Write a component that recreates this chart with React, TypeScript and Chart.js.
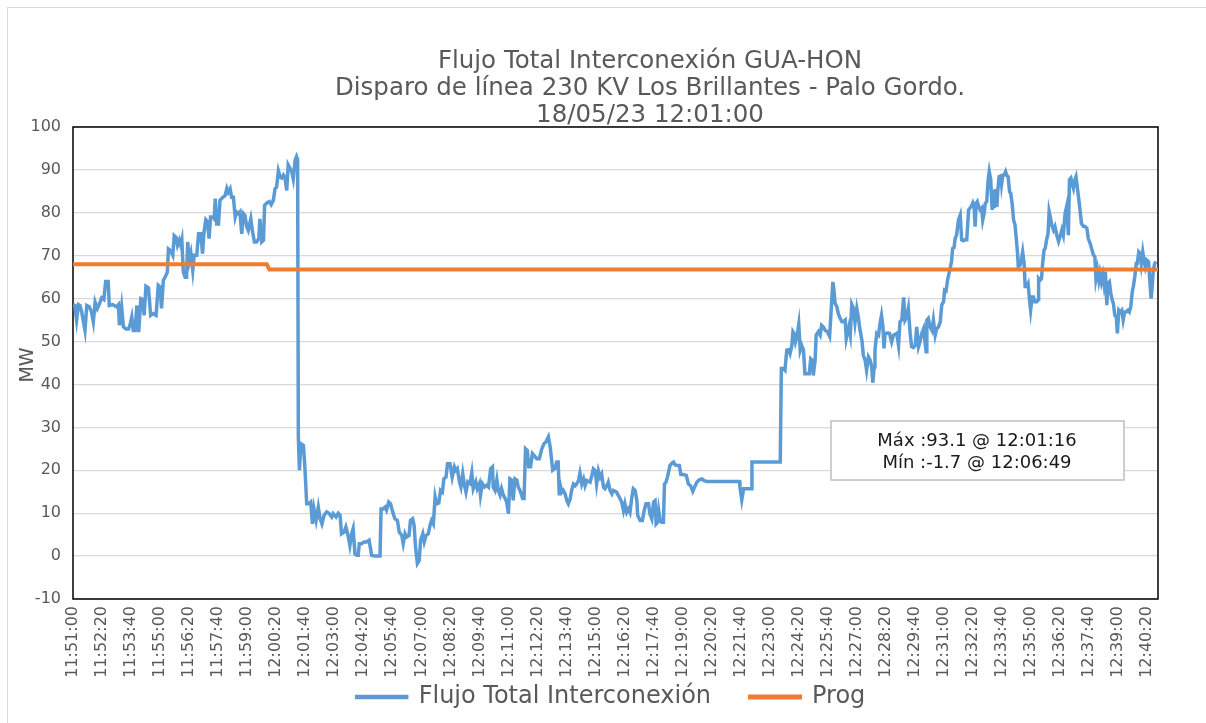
import React, { useEffect, useRef } from "react";
import { Chart, registerables } from "chart.js";

Chart.register(...registerables);

// ---------- text ----------
const titleLines = [
  "Flujo Total Interconexión GUA-HON",
  "Disparo de línea 230 KV Los Brillantes - Palo Gordo.",
  "18/05/23 12:01:00",
];
const seriesNames = ["Flujo Total Interconexión", "Prog"];
const axisTitle = "MW";
const annotationLines = ["Máx :93.1 @ 12:01:16", "Mín :-1.7 @ 12:06:49"];

// ---------- axes ----------
const startClock = "11:51:00";
const endSeconds = 2990; // seconds after start at right edge of plot
const tickLabels = [
  "11:51:00", "11:52:20", "11:53:40", "11:55:00", "11:56:20", "11:57:40",
  "11:59:00", "12:00:20", "12:01:40", "12:03:00", "12:04:20", "12:05:40",
  "12:07:00", "12:08:20", "12:09:40", "12:11:00", "12:12:20", "12:13:40",
  "12:15:00", "12:16:20", "12:17:40", "12:19:00", "12:20:20", "12:21:40",
  "12:23:00", "12:24:20", "12:25:40", "12:27:00", "12:28:20", "12:29:40",
  "12:31:00", "12:32:20", "12:33:40", "12:35:00", "12:36:20", "12:37:40",
  "12:39:00", "12:40:20",
];
const yMin = -10;
const yMax = 100;
const yStep = 10;

// ---------- data: seconds after 11:51:00 and MW ----------
const preTripTimes = [
  0, 5, 10, 15, 19, 24, 33, 38, 45, 51,
  56, 61, 67, 73, 79, 85, 90, 97, 100, 109,
  116, 120, 125, 128, 134, 139, 146, 153, 157, 162,
  166, 171, 176, 181, 187, 192, 196, 201, 208, 214,
  221, 229, 235, 240, 244, 249, 256, 260, 263, 269,
  275, 279, 284, 288, 293, 297, 300, 304, 309, 313,
  316, 321, 325, 330, 334, 341, 346, 352, 357, 361,
  366, 370, 375, 379, 385, 389, 392, 396, 401, 405,
  413, 419, 424, 428, 433, 437, 442, 447, 451, 456,
  460, 465, 470, 474, 479, 483, 490, 495, 500, 506,
  512, 515, 520, 525, 528, 534, 541, 546, 552, 557,
  561, 566, 571, 575, 580, 584, 589, 593, 598, 603,
  607, 612, 616, 619,
];
const preTripValues = [
  58.6, 58.4, 55.0, 58.6, 58.4, 56.9, 52.6, 58.4, 58.1, 56.9,
  54.6, 59.2, 57.7, 58.8, 60.2, 59.8, 64.0, 64.0, 58.4, 58.6,
  58.3, 58.1, 58.6, 53.8, 58.1, 53.4, 52.9, 52.9, 53.8, 55.7,
  52.6, 52.6, 58.4, 52.2, 60.0, 59.8, 56.1, 62.9, 62.5, 56.1,
  56.5, 56.1, 63.1, 62.7, 57.7, 64.3, 65.4, 66.2, 71.6, 71.2,
  70.1, 74.7, 74.3, 72.4, 73.6, 72.4, 73.6, 66.2, 65.0, 65.0,
  73.2, 68.9, 70.5, 66.6, 70.1, 70.1, 75.1, 75.1, 70.5, 75.5,
  78.4, 78.0, 74.0, 79.0, 79.0, 78.6, 83.3, 77.4, 77.4, 82.9,
  83.6, 84.0, 85.7, 84.8, 85.6, 83.6, 83.6, 79.0, 80.2, 79.8,
  80.2, 75.1, 79.8, 79.4, 76.7, 75.9, 78.6, 75.5, 73.2, 73.2,
  74.0, 78.6, 73.2, 73.6, 81.7, 82.3, 82.6, 81.9, 82.9, 85.7,
  86.0, 89.8, 88.3, 88.1, 88.8, 88.3, 85.2, 91.2, 90.4, 89.5,
  87.9, 92.2, 93.1, 92.4,
];

const postTripTimes = [
  621, 624, 628, 635, 639, 644, 650, 655, 660, 664,
  670, 676, 681, 686, 692, 699, 706, 713, 717, 725,
  731, 736, 740, 747, 752, 759, 763, 768, 772, 777,
  782, 786, 789, 795, 802, 809, 816, 823, 832, 846,
  849, 855, 860, 864, 870, 875, 881, 887, 894, 899,
  906, 910, 915, 919, 926, 930, 936, 940, 944, 949,
  954, 958, 964, 968, 973, 979, 984, 988, 993, 998,
  1002, 1008, 1013, 1018, 1022, 1028, 1032, 1039, 1045, 1051,
  1055, 1059, 1065, 1069, 1074, 1078, 1083, 1088, 1094, 1099,
  1103, 1110, 1114, 1120, 1123, 1128, 1134, 1140, 1145, 1151,
  1156, 1158, 1163, 1168, 1172, 1177, 1181, 1186, 1191, 1195,
  1200, 1204, 1209, 1213, 1218, 1223, 1227, 1232, 1239, 1243,
  1247, 1252, 1256, 1261, 1266, 1270, 1278, 1285, 1292, 1298,
  1303, 1310, 1315, 1322, 1328, 1333, 1337, 1340,
];
const postTripValues = [
  27.8, 20.0, 26.2, 25.8, 20.8, 12.2, 12.2, 12.6, 7.5, 11.0,
  8.3, 11.4, 8.7, 7.5, 9.5, 10.3, 9.9, 9.1, 9.9, 9.1,
  10.0, 9.5, 5.2, 5.6, 6.8, 4.4, 2.5, 5.2, 6.4, 0.5,
  0.2, 0.2, 2.9, 2.9, 3.3, 3.3, 3.7, 0.2, 0.0, 0.0,
  11.0, 11.0, 11.4, 10.7, 12.6, 12.2, 10.3, 8.7, 8.3, 5.6,
  4.8, 2.9, 5.2, 4.4, 4.8, 8.3, 8.7, 7.2, 2.1, -1.7,
  -1.0, 3.7, 5.2, 3.3, 4.8, 5.2, 7.2, 8.3, 7.5, 13.8,
  12.2, 12.4, 15.3, 14.9, 18.0, 18.4, 21.5, 21.5, 18.4, 20.8,
  20.0, 20.4, 17.3, 16.1, 19.2, 16.9, 14.9, 17.3, 16.9, 19.4,
  15.7, 17.3, 15.7, 16.9, 14.2, 16.9, 16.1, 16.5, 16.1, 20.4,
  20.8, 16.1, 15.3, 17.8, 15.3, 14.2, 15.7, 14.2, 13.4, 12.6,
  9.9, 18.0, 17.7, 13.0, 18.0, 17.7, 16.1, 15.3, 13.4, 13.4,
  25.0, 24.6, 20.8, 20.8, 23.9, 23.5, 22.7, 22.7, 25.0, 26.2,
  26.6, 27.8, 25.4, 20.0, 20.4, 21.9, 21.9, 14.5,
];

const lowFlowTimes = [
  1342, 1347, 1351, 1356, 1361, 1365, 1370, 1374, 1379, 1384,
  1388, 1393, 1397, 1402, 1407, 1411, 1416, 1425, 1430, 1434,
  1439, 1443, 1448, 1453, 1457, 1462, 1466, 1471, 1475, 1480,
  1485, 1489, 1498, 1503, 1508, 1512, 1517, 1521, 1526, 1531,
  1535, 1540, 1544, 1549, 1554, 1556, 1563, 1569, 1574, 1579,
  1586, 1590, 1595, 1600, 1604, 1607, 1611, 1614, 1618, 1622,
  1627, 1630, 1634, 1638, 1641, 1645, 1650, 1655, 1659, 1666,
  1671, 1675, 1682, 1690, 1696, 1702, 1708, 1712, 1719, 1726,
  1733, 1739, 1747, 1837, 1838, 1843, 1848, 1869, 1871, 1949,
];
const lowFlowValues = [
  16.8, 14.9, 15.3, 14.5, 12.9, 12.2, 13.3, 15.3, 16.8, 16.4,
  16.8, 17.6, 19.3, 16.8, 18.0, 16.4, 17.6, 17.2, 18.8, 20.3,
  19.9, 16.8, 19.9, 18.4, 19.1, 16.0, 15.7, 16.4, 17.2, 15.3,
  14.5, 15.3, 14.9, 14.1, 13.3, 12.6, 10.6, 12.2, 10.2, 11.0,
  10.2, 13.7, 15.7, 15.3, 12.9, 9.5, 8.3, 8.3, 10.6, 12.2,
  12.2, 9.8, 8.7, 12.6, 12.9, 7.5, 7.9, 10.6, 8.3, 7.9,
  7.9, 16.8, 17.2, 18.4, 19.5, 21.1, 21.6, 21.9, 21.3, 21.1,
  21.1, 19.0, 19.0, 18.8, 16.8, 16.4, 15.1, 15.9, 17.2, 17.8,
  18.0, 17.6, 17.4, 17.4, 16.0, 13.1, 15.7, 15.7, 21.9, 21.9,
];

const recoveryTimes = [
  1952, 1958, 1962, 1967, 1972, 1976, 1981, 1984, 1987, 1991,
  1995, 2000, 2004, 2008, 2013, 2017, 2022, 2029, 2033, 2038,
  2040, 2045, 2048, 2054, 2059, 2063, 2068, 2073, 2079, 2085,
  2088, 2094, 2097, 2100, 2105, 2109, 2114, 2119, 2123, 2128,
  2131, 2134, 2138, 2142, 2146, 2151, 2155, 2160, 2164, 2169,
  2174, 2178, 2183, 2187, 2192, 2197, 2201, 2204, 2208, 2210,
  2215, 2220, 2224, 2228, 2232, 2235, 2238, 2243, 2250, 2256,
  2261, 2266, 2270, 2275, 2279, 2284, 2289, 2293, 2298, 2302,
  2307, 2311, 2316, 2321, 2325, 2330, 2334, 2339, 2344, 2348,
  2351, 2353, 2357, 2362, 2367, 2371, 2376, 2380, 2385, 2390,
  2394, 2399, 2402, 2406, 2410, 2413, 2417, 2421, 2424, 2428,
  2431, 2435, 2440, 2445,
];
const recoveryValues = [
  43.7, 43.7, 43.3, 48.0, 48.1, 47.2, 49.1, 52.3, 51.9, 49.9,
  51.1, 54.0, 48.0, 49.1, 48.0, 42.5, 42.5, 42.5, 46.0, 45.6,
  42.1, 45.6, 51.5, 52.3, 51.5, 53.8, 53.4, 52.6, 52.3, 51.2,
  55.4, 63.9, 62.0, 58.9, 58.1, 56.5, 55.4, 54.6, 54.6, 55.0,
  50.7, 51.9, 53.4, 51.5, 58.7, 57.7, 54.4, 57.7, 55.8, 52.6,
  50.3, 46.8, 45.6, 43.3, 46.4, 45.6, 44.1, 40.4, 44.1, 48.0,
  51.9, 51.5, 54.2, 56.1, 53.4, 48.4, 51.9, 52.0, 51.9, 49.9,
  51.5, 51.7, 51.9, 49.1, 54.6, 55.0, 60.3, 55.0, 55.8, 57.7,
  51.9, 48.8, 48.6, 49.1, 53.4, 48.8, 49.9, 51.9, 53.0, 49.9,
  47.6, 55.0, 55.4, 53.4, 52.6, 55.0, 51.5, 53.0, 53.4, 54.6,
  58.5, 59.3, 62.0, 61.8, 64.3, 65.5, 67.0, 68.6, 71.7, 71.9,
  74.0, 74.8, 78.3, 79.5,
];

const lateTimes = [
  2449, 2454, 2458, 2463, 2468, 2472, 2477, 2480, 2483, 2486,
  2489, 2492, 2496, 2500, 2504, 2507, 2511, 2514, 2518, 2522,
  2525, 2529, 2533, 2536, 2539, 2542, 2546, 2548, 2552, 2557,
  2559, 2562, 2566, 2570, 2573, 2577, 2581, 2584, 2588, 2592,
  2596, 2599, 2603, 2605, 2610, 2614, 2617, 2621, 2624, 2628,
  2632, 2636, 2639, 2643, 2647, 2650, 2656, 2660, 2661, 2665,
  2669, 2672, 2676, 2679, 2683, 2687, 2690, 2693, 2697, 2702,
  2706, 2711, 2716, 2720, 2725, 2729, 2734, 2739, 2743, 2746,
  2750, 2753, 2757, 2761, 2764, 2768, 2772, 2775, 2779, 2785,
  2789, 2794, 2798, 2803, 2807, 2812, 2816, 2819, 2823, 2827,
  2830, 2834, 2838, 2841, 2845, 2849, 2852, 2856, 2860, 2864,
  2867, 2871, 2875, 2878, 2882, 2886, 2890, 2894, 2898, 2902,
  2907, 2911, 2915, 2919, 2922, 2926, 2930, 2933, 2937, 2941,
  2944, 2948, 2952, 2955, 2959, 2964, 2968, 2971, 2974, 2977,
  2981, 2985,
];
const lateValues = [
  73.7, 73.5, 73.7, 73.7, 80.7, 81.1, 81.8, 82.4, 81.8, 76.8,
  82.2, 82.6, 81.4, 80.7, 81.1, 78.3, 79.9, 82.2, 82.6, 87.7,
  89.6, 87.7, 80.7, 85.3, 81.1, 85.5, 81.4, 84.6, 88.4, 88.6,
  86.7, 88.6, 88.8, 89.6, 88.8, 88.4, 84.9, 84.6, 82.2, 78.3,
  77.2, 74.4, 70.5, 67.4, 67.8, 69.4, 70.9, 68.2, 62.8, 62.8,
  63.5, 59.6, 57.3, 60.4, 60.4, 59.3, 59.3, 59.8, 64.7, 64.3,
  64.7, 68.2, 71.3, 71.7, 73.7, 75.2, 80.3, 79.1, 77.2, 76.0,
  76.8, 74.8, 73.3, 74.4, 76.0, 74.8, 79.9, 81.8, 74.8, 87.7,
  88.1, 86.9, 85.7, 87.7, 88.4, 85.7, 83.0, 80.7, 77.5, 76.8,
  76.8, 76.4, 74.0, 72.9, 71.7, 70.2, 69.8, 64.7, 66.7, 64.3,
  65.9, 63.9, 65.5, 63.5, 66.3, 58.5, 63.5, 63.9, 61.2, 59.6,
  58.9, 56.1, 55.8, 51.9, 57.3, 56.9, 57.3, 55.0, 56.9, 56.9,
  57.3, 56.9, 58.1, 61.6, 62.8, 65.1, 68.2, 68.2, 70.9, 70.5,
  68.2, 70.9, 68.6, 67.4, 69.0, 68.6, 63.5, 60.0, 62.8, 66.7,
  68.2, 68.6,
];

const progTimes = [0, 534, 541, 2990];
const progValues = [68.0, 68.0, 66.8, 66.8];

// ---------- styling ----------
const FONT = '"DejaVu Sans", sans-serif';
const TEXT_GRAY = "#595959";
const BLUE = "#5b9bd5";
const ORANGE = "#ed7d31";
const LEGEND_PADDING = 39;
const LEGEND_FONT_SIZE = 24;

const toSeconds = (clock: string) => {
  const [h, m, s] = clock.split(":").map(Number);
  return h * 3600 + m * 60 + s;
};
const startSec = toSeconds(startClock);
const tickValues = tickLabels.map((l) => toSeconds(l) - startSec);

const pairs = (times: number[], values: number[]) =>
  times.map((t, i) => ({ x: t, y: values[i] }));

const flowPoints = [
  ...pairs(preTripTimes, preTripValues),
  ...pairs(postTripTimes, postTripValues),
  ...pairs(lowFlowTimes, lowFlowValues),
  ...pairs(recoveryTimes, recoveryValues),
  ...pairs(lateTimes, lateValues),
];
const progPoints = pairs(progTimes, progValues);

const decorPlugin = {
  id: "decor",
  afterLayout(chart: any) {
    // place the legend row like the reference (centre x ~611, text centre y ~697)
    const lg = chart.legend;
    if (!lg) return;
    const w = lg.right - lg.left;
    lg.top = 697 - LEGEND_PADDING - LEGEND_FONT_SIZE / 2;
    lg.bottom = chart.height;
    lg.height = lg.bottom - lg.top;
    lg.left = 611 - w / 2;
    lg.right = lg.left + w;
  },
  beforeDatasetsDraw(chart: any) {
    const { ctx, chartArea: a } = chart;
    ctx.save();
    ctx.strokeStyle = "#000000";
    ctx.lineWidth = 1.5;
    ctx.strokeRect(a.left, a.top, a.right - a.left, a.bottom - a.top);
    ctx.restore();
  },
  afterDatasetsDraw(chart: any) {
    const { ctx } = chart;
    ctx.save();
    ctx.fillStyle = "#ffffff";
    ctx.fillRect(831, 421, 293, 59);
    ctx.strokeStyle = "#bfbfbf";
    ctx.lineWidth = 1.5;
    ctx.strokeRect(831, 421, 293, 59);
    ctx.fillStyle = "#1a1a1a";
    ctx.font = `18px ${FONT}`;
    ctx.textAlign = "center";
    ctx.textBaseline = "middle";
    annotationLines.forEach((line, i) => ctx.fillText(line, 977, 441 + i * 22));
    ctx.restore();
  },
  afterDraw(chart: any) {
    const { ctx } = chart;
    ctx.save();
    ctx.fillStyle = TEXT_GRAY;
    ctx.font = `24.5px ${FONT}`;
    ctx.textAlign = "center";
    ctx.textBaseline = "middle";
    titleLines.forEach((line, i) => ctx.fillText(line, 650, 62 + i * 27));
    ctx.translate(28, 365);
    ctx.rotate(-Math.PI / 2);
    ctx.font = `19px ${FONT}`;
    ctx.fillText(axisTitle, 0, 0);
    ctx.restore();
  },
};

export default function App() {
  const canvasRef = useRef<HTMLCanvasElement | null>(null);

  useEffect(() => {
    if (!canvasRef.current) return;
    const chart = new Chart(canvasRef.current, {
      type: "line",
      data: {
        datasets: [
          {
            label: seriesNames[0],
            data: flowPoints,
            borderColor: BLUE,
            backgroundColor: BLUE,
            borderWidth: 3.5,
            pointRadius: 0,
            tension: 0,
            fill: false,
            order: 2,
          },
          {
            label: seriesNames[1],
            data: progPoints,
            borderColor: ORANGE,
            backgroundColor: ORANGE,
            borderWidth: 4,
            pointRadius: 0,
            tension: 0,
            fill: false,
            order: 1,
          },
        ],
      },
      options: {
        responsive: false,
        animation: false,
        layout: { padding: { top: 127, left: 16, right: 48, bottom: 5 } },
        plugins: {
          title: { display: false },
          tooltip: { enabled: false },
          legend: {
            position: "bottom",
            maxHeight: 39,
            labels: {
              boxWidth: 50,
              boxHeight: 1,
              padding: LEGEND_PADDING,
              color: TEXT_GRAY,
              font: { family: FONT, size: LEGEND_FONT_SIZE },
              sort: (a: any, b: any) => a.datasetIndex - b.datasetIndex,
            },
          },
        },
        scales: {
          x: {
            type: "linear",
            min: 0,
            max: endSeconds,
            afterBuildTicks: (scale: any) => {
              scale.ticks = tickValues.map((v) => ({ value: v }));
            },
            afterFit: (scale: any) => {
              scale.height = 80;
            },
            grid: { display: false, drawTicks: false },
            border: { display: false },
            ticks: {
              autoSkip: false,
              maxRotation: 90,
              minRotation: 90,
              padding: 7,
              color: TEXT_GRAY,
              font: { family: FONT, size: 16 },
              callback: (value: any) => {
                const idx = tickValues.indexOf(Number(value));
                return idx >= 0 ? tickLabels[idx] : "";
              },
            },
          },
          y: {
            min: yMin,
            max: yMax,
            afterFit: (scale: any) => {
              scale.width = 57;
            },
            grid: { color: "#d9d9d9", lineWidth: 1.2, drawTicks: false },
            border: { display: false },
            ticks: {
              stepSize: yStep,
              padding: 12,
              color: TEXT_GRAY,
              font: { family: FONT, size: 16 },
            },
          },
        },
      },
      plugins: [decorPlugin],
    });
    return () => chart.destroy();
  }, []);

  return (
    <div
      style={{
        position: "fixed",
        left: 0,
        top: 0,
        width: 1206,
        height: 723,
        overflow: "hidden",
        background: "#ffffff",
      }}
    >
      <div
        style={{
          position: "absolute",
          left: 7,
          top: 7,
          width: 1400,
          height: 900,
          border: "1px solid #d9d9d9",
        }}
      />
      <canvas
        ref={canvasRef}
        width={1206}
        height={723}
        style={{ position: "absolute", left: 0, top: 0 }}
      />
    </div>
  );
}
